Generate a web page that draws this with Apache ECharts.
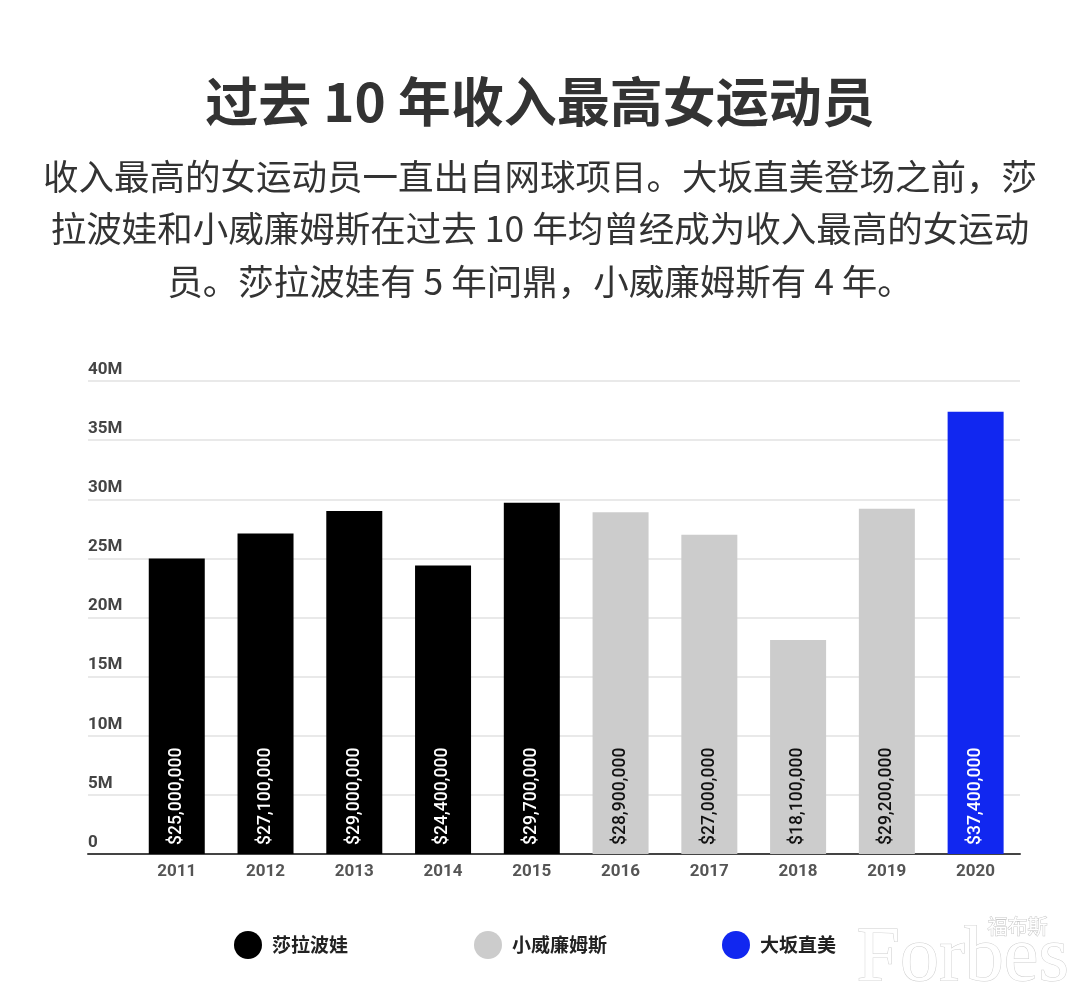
<!DOCTYPE html>
<html>
<head>
<meta charset="utf-8">
<script src="https://cdn.jsdelivr.net/npm/echarts@6/dist/echarts.min.js"></script>
<style>
  html, body { margin: 0; padding: 0; background: #fff; }
  #main { width: 1080px; height: 997px; }
</style>
</head>
<body>
<div id="main"></div>
<script>
// 数据
const years = [2011, 2012, 2013, 2014, 2015, 2016, 2017, 2018, 2019, 2020];
const earnings = [25000000, 27100000, 29000000, 24400000, 29700000, 28900000, 27000000, 18100000, 29200000, 37400000];
const winners = ["莎拉波娃", "莎拉波娃", "莎拉波娃", "莎拉波娃", "莎拉波娃", "小威廉姆斯", "小威廉姆斯", "小威廉姆斯", "小威廉姆斯", "大坂直美"];
const athletes = ["莎拉波娃", "小威廉姆斯", "大坂直美"];
const colors = ["#000000", "#cccccc", "#1127f0"];
const labelColors = ["#ffffff", "#111111", "#ffffff"];
const yTicks = [0, 5000000, 10000000, 15000000, 20000000, 25000000, 30000000, 35000000, 40000000];

const chart = echarts.init(document.getElementById("main"));

let series = athletes.map(function (name, k) {
  let data = [];
  for (let i = 0; i < years.length; i++) {
    if (winners[i] == name) data.push([years[i], earnings[i]]);
  }
  return {
    name: name,
    type: "bar",
    stack: "all",
    barWidth: 56,
    itemStyle: { color: colors[k] },
    label: {
      show: true,
      position: "insideBottom",
      rotate: 90,
      align: "left",
      verticalAlign: "middle",
      distance: 9,
      color: labelColors[k],
      fontSize: 17.5,
      fontWeight: 500,
      fontFamily: "Roboto",
      formatter: function (p) {
        return "$" + p.value[1].toLocaleString("en-US");
      },
    },
    data: data,
  };
});

// 图例（三个分开放）
const legendLeft = [229, 469, 717];
let legends = athletes.map(function (name, k) {
  return {
    data: [name],
    left: legendLeft[k],
    top: 926,
    icon: "circle",
    itemWidth: 28,
    itemHeight: 28,
    selectedMode: false,
    textStyle: {
      fontSize: 19,
      fontWeight: "bold",
      color: "#222",
      fontFamily: "Noto Sans CJK SC",
      padding: [0, 0, 0, 5],
    },
  };
});

const option = {
  backgroundColor: "#fff",
  animation: false,
  title: [
    {
      text: "过去 10 年收入最高女运动员",
      left: "center",
      top: 64,
      textStyle: {
        fontSize: 53,
        fontWeight: "bold",
        color: "#333",
        lineHeight: 66,
        fontFamily: "Noto Sans CJK SC",
      },
    },
    {
      text: "收入最高的女运动员一直出自网球项目。大坂直美登场之前，莎\n拉波娃和小威廉姆斯在过去 10 年均曾经成为收入最高的女运动\n员。莎拉波娃有 5 年问鼎，小威廉姆斯有 4 年。",
      left: "center",
      top: 145,
      textStyle: {
        fontSize: 35.5,
        fontWeight: "normal",
        color: "#333",
        lineHeight: 52.5,
        fontFamily: "Noto Sans CJK SC",
      },
    },
  ],
  legend: legends,
  grid: { left: 88, right: 60, top: 381, bottom: 143 },
  xAxis: {
    type: "value",
    min: 2010,
    max: 2020.5,
    interval: 1,
    splitLine: { show: false },
    axisTick: { show: false },
    axisLine: { show: true, lineStyle: { color: "#444", width: 2 } },
    axisLabel: {
      margin: 9,
      fontSize: 17,
      fontWeight: "bold",
      color: "#555",
      fontFamily: "Roboto",
      formatter: function (v) {
        return years.indexOf(v) >= 0 ? String(v) : "";
      },
    },
  },
  yAxis: {
    type: "value",
    min: yTicks[0],
    max: yTicks[yTicks.length - 1],
    interval: yTicks[1] - yTicks[0],
    axisLine: { show: false },
    axisTick: { show: false },
    splitLine: { lineStyle: { color: "#e2e2e2", width: 1.5 } },
    axisLabel: {
      inside: true,
      margin: 0,
      align: "left",
      verticalAlign: "bottom",
      padding: [0, 0, 3, 0],
      fontSize: 17,
      fontWeight: "bold",
      color: "#444",
      fontFamily: "Roboto",
      formatter: function (v) {
        return v == 0 ? "0" : v / 1000000 + "M";
      },
    },
  },
  graphic: [
    {
      type: "text",
      left: 856,
      top: 920,
      z: 1,
      style: {
        text: "Forbes",
        font: '78px "Liberation Serif"',
        fill: "#ffffff",
        stroke: "#cfcfcf",
        lineWidth: 1,
      },
    },
    {
      type: "text",
      left: 987,
      top: 916,
      z: 1,
      style: {
        text: "福布斯",
        font: '20px "Noto Sans CJK SC"',
        fill: "#ffffff",
        stroke: "#c8c8c8",
        lineWidth: 1,
      },
    },
  ],
  series: series,
};

chart.setOption(option);
</script>
</body>
</html>
